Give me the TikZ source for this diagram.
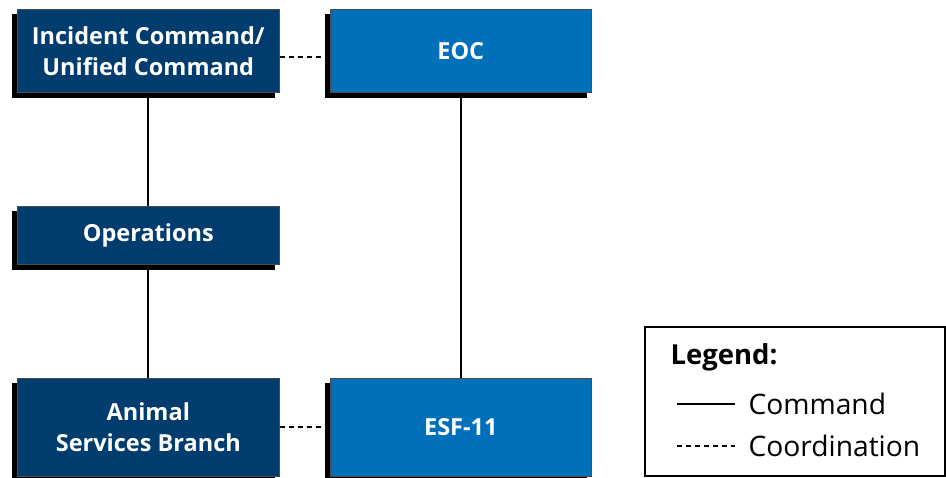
\documentclass[tikz,border=0pt]{standalone}
\usepackage{fontspec}
\setmainfont{Open Sans}
\begin{document}
\begin{tikzpicture}[x=1pt,y=-1pt,
  boxbase/.style={draw=black!70,line width=0.6pt,text=white,font=\bfseries\fontsize{23.5}{31}\selectfont,align=center,inner sep=0pt,anchor=north west},
  cmdline/.style={line width=2pt},
  coordline/.style={line width=1.8pt,dash pattern=on 5pt off 4pt},
  legendtext/.style={anchor=west,font=\fontsize{28.2}{31}\selectfont}]
\definecolor{navyfill}{HTML}{003C6E}
\definecolor{bluefill}{HTML}{0070BB}
\useasboundingbox (0,0) rectangle (946,478);
% drop shadows
\fill (12,14) rectangle (275,98);
\fill (325,14) rectangle (587,98);
\fill (12,211) rectangle (275,270);
\fill (12,383) rectangle (275,478);
\fill (325,383) rectangle (587,478);
% boxes
\node[boxbase,fill=navyfill,minimum width=262pt,minimum height=83pt,text depth=-6pt] (ic) at (17,9) {Incident Command/\\Unified Command};
\node[boxbase,fill=bluefill,minimum width=261pt,minimum height=83pt] (eoc) at (330,9) {EOC};
\node[boxbase,fill=navyfill,minimum width=262pt,minimum height=58pt] (ops) at (17,206) {Operations};
\node[boxbase,fill=navyfill,minimum width=262pt,minimum height=98pt] (asb) at (17,378) {Animal\\Services Branch};
\node[boxbase,fill=bluefill,minimum width=261pt,minimum height=98pt] (esf) at (330,378) {ESF-11};
% connectors
\draw[cmdline] (ic.south) -- (ops.north);
\draw[cmdline] (ops.south) -- (asb.north);
\draw[cmdline] (eoc.south) -- (esf.north);
\draw[coordline] ([yshift=-6.5pt]ic.east) -- ([yshift=-6.5pt]eoc.west);
\draw[coordline] (asb.east) -- (esf.west);
% legend
\node[draw,line width=1.6pt,minimum width=300pt,minimum height=149pt,anchor=north west,inner sep=0pt] (legend) at (644,326) {};
\node[anchor=west,font=\bfseries\fontsize{27.5}{31}\selectfont] (lt) at (667,357) {Legend:};
\coordinate (c1) at (677,404);
\coordinate (c2) at (735,404);
\coordinate (d1) at (677,446);
\coordinate (d2) at (735,446);
\draw[line width=1.6pt] (c1) -- (c2);
\draw[line width=1.6pt,dash pattern=on 5pt off 4pt] (d1) -- (d2);
\node[legendtext] (lc) at (745,404) {Command};
\node[legendtext] (ld) at (745,446) {Coordination};
\end{tikzpicture}
\end{document}
